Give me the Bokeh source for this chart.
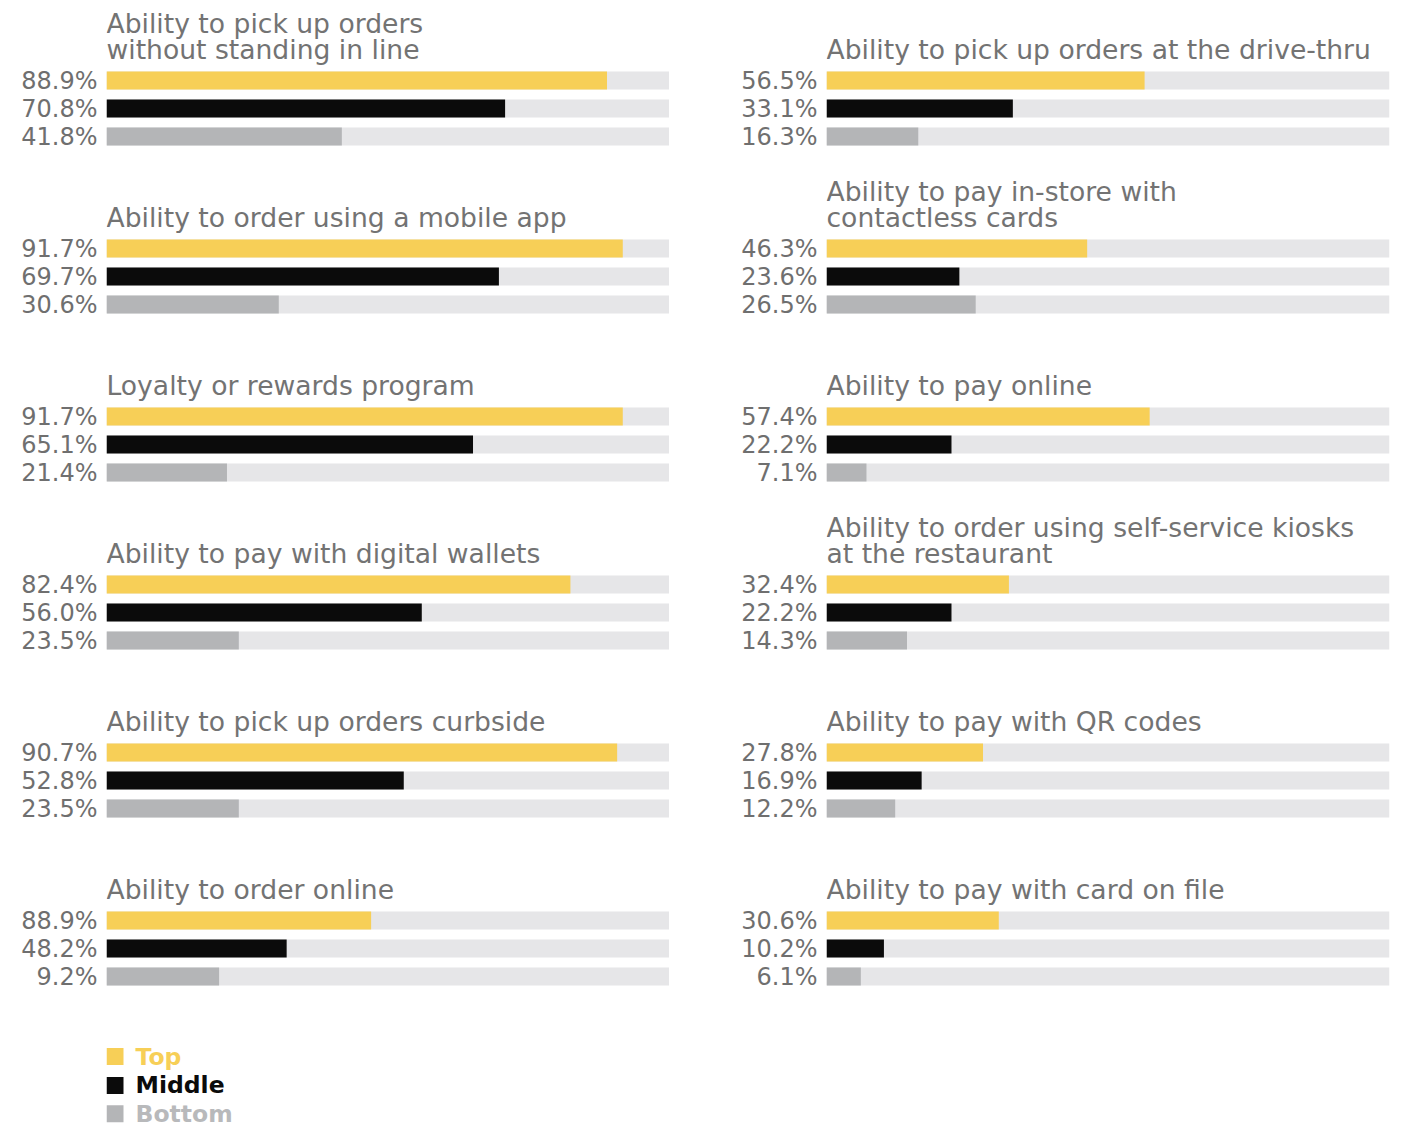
from bokeh.plotting import figure
from bokeh.models import Range1d, FixedTicker, ColumnDataSource
from bokeh.layouts import row
from bokeh.core.properties import value
from bokeh.embed import file_html
from bokeh.resources import INLINE

# ---------------- data ----------------
series = ["Top", "Middle", "Bottom"]
series_colors = ["#f7cf57", "#0b0b0b", "#b4b5b7"]
legend_text_colors = ["#f7cf57", "#0b0b0b", "#b8b9bb"]

left_titles = [
    "Ability to pick up orders\nwithout standing in line",
    "Ability to order using a mobile app",
    "Loyalty or rewards program",
    "Ability to pay with digital wallets",
    "Ability to pick up orders curbside",
    "Ability to order online",
]
left_top = [88.9, 91.7, 91.7, 82.4, 90.7, 47.0]
left_mid = [70.8, 69.7, 65.1, 56.0, 52.8, 32.0]
left_bot = [41.8, 30.6, 21.4, 23.5, 23.5, 20.0]
left_top_labels = ["88.9%", "91.7%", "91.7%", "82.4%", "90.7%", "88.9%"]
left_mid_labels = ["70.8%", "69.7%", "65.1%", "56.0%", "52.8%", "48.2%"]
left_bot_labels = ["41.8%", "30.6%", "21.4%", "23.5%", "23.5%", "9.2%"]

right_titles = [
    "Ability to pick up orders at the drive-thru",
    "Ability to pay in-store with\ncontactless cards",
    "Ability to pay online",
    "Ability to order using self-service kiosks\nat the restaurant",
    "Ability to pay with QR codes",
    "Ability to pay with card on file",
]
right_top = [56.5, 46.3, 57.4, 32.4, 27.8, 30.6]
right_mid = [33.1, 23.6, 22.2, 22.2, 16.9, 10.2]
right_bot = [16.3, 26.5, 7.1, 14.3, 12.2, 6.1]
right_top_labels = ["56.5%", "46.3%", "57.4%", "32.4%", "27.8%", "30.6%"]
right_mid_labels = ["33.1%", "23.6%", "22.2%", "22.2%", "16.9%", "10.2%"]
right_bot_labels = ["16.3%", "26.5%", "7.1%", "14.3%", "12.2%", "6.1%"]

# ---------------- styling / layout ----------------
TRACK = "#e6e6e8"
TITLE_GRAY = "#737373"
LABEL_GRAY = "#6f6f6f"
FONT = "DejaVu Sans"
ROW_PX = 28.0
FIG_H = 1127
Y_TOP = (0 - 80) / ROW_PX
Y_BOTTOM = Y_TOP + FIG_H / ROW_PX
FRAME_W = 563
PANEL_ROWS = 6


def make_column(titles, tops, mids, bots, tl, ml, bl, border_left, border_right, legend=False):
    p = figure(
        width=border_left + FRAME_W + border_right,
        height=FIG_H,
        output_backend="svg",
        toolbar_location=None,
        x_range=Range1d(0, 100),
        y_range=Range1d(Y_BOTTOM, Y_TOP),
        min_border_left=border_left,
        min_border_right=border_right,
        min_border_top=0,
        min_border_bottom=0,
        x_axis_location=None,
    )
    p.outline_line_color = None
    p.grid.visible = False
    p.background_fill_color = "white"
    p.border_fill_color = "white"

    ys, vals, cols, ticks, overrides = [], [], [], [], {}
    for i in range(len(titles)):
        base = i * PANEL_ROWS
        for j, (v, lab) in enumerate(((tops[i], tl[i]), (mids[i], ml[i]), (bots[i], bl[i]))):
            y = base + j
            ys.append(y)
            vals.append(v)
            cols.append(series_colors[j])
            ticks.append(y)
            overrides[y] = lab

    bar_h = 18.0 / ROW_PX
    p.hbar(y=ys, left=0, right=[100] * len(ys), height=bar_h, color=TRACK, line_color=None)
    p.hbar(y=ys, left=0, right=vals, height=bar_h, color=cols, line_color=None)

    # panel titles
    tx, ty, tt = [], [], []
    for i, t in enumerate(titles):
        lines = t.split("\n")
        n = len(lines)
        for k, line in enumerate(lines):
            tx.append(0)
            ty.append(i * PANEL_ROWS - 1.107 - (n - 1 - k) * 0.946)
            tt.append(line)
    p.text(x=tx, y=ty, text=tt, text_font=value(FONT), text_font_size=value("26.6px"),
           text_color=TITLE_GRAY, text_baseline="middle", text_align="left")

    ax = p.yaxis[0]
    ax.ticker = FixedTicker(ticks=ticks)
    ax.major_label_overrides = overrides
    ax.major_tick_in = 0
    ax.major_tick_out = 0
    ax.minor_tick_in = 0
    ax.minor_tick_out = 0
    ax.axis_line_color = None
    ax.major_label_standoff = 9
    ax.major_label_text_font = FONT
    ax.major_label_text_font_size = "24px"
    ax.major_label_text_color = LABEL_GRAY

    if legend:
        ly = [34.86, 35.89, 36.90]
        src = ColumnDataSource(dict(x=[1.51] * 3, tx=[5.15] * 3, y=ly, name=series,
                                    c=series_colors, tc=legend_text_colors))
        p.rect(x="x", y="y", width=17, height=17, width_units="screen", height_units="screen",
               color="c", line_color=None, source=src)
        p.text(x="tx", y="y", text="name", text_color="tc", source=src,
               text_font=value(FONT), text_font_size=value("23.5px"), text_font_style="bold",
               text_baseline="middle", text_align="left")
    return p


left = make_column(left_titles, left_top, left_mid, left_bot,
                   left_top_labels, left_mid_labels, left_bot_labels, 106, 0, legend=True)
right = make_column(right_titles, right_top, right_mid, right_bot,
                    right_top_labels, right_mid_labels, right_bot_labels, 157, 2)

layout = row(left, right)
open("out.html", "w").write(file_html(layout, INLINE))
